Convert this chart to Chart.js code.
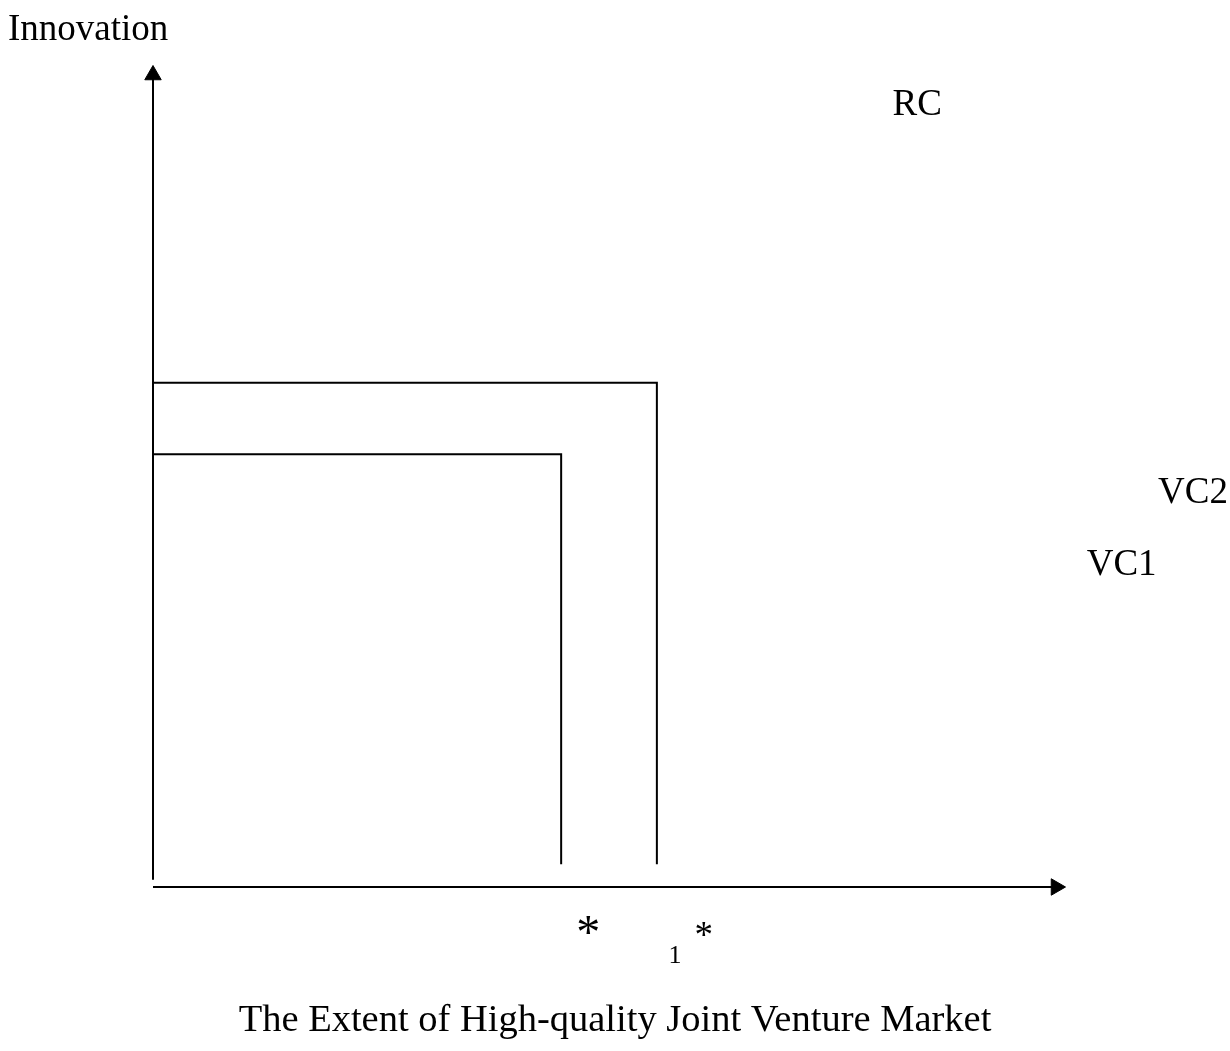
<!DOCTYPE html>
<html>
<head>
<meta charset="utf-8">
<script src="https://cdn.jsdelivr.net/npm/chart.js@4"></script>
<style>
  html, body { margin: 0; padding: 0; background: #fff; }
  #wrap { width: 1230px; height: 1051px; position: relative; }
</style>
</head>
<body>
<div id="wrap"><canvas id="vc-chart"></canvas></div>
<script>
// values (axis runs 0..10 on both sides)
var axisMax = 10;
var axisStartY = 0.09;          // y axis stops just above the x axis
var curveNames = ['VC1', 'VC2'];
var cutoffX = [4.52, 5.58];     // x* and x1*
var levelY = [5.33, 6.21];      // height of each VC step
var floorY = 0.28;              // vertical parts stop above the x axis

var serif = '"Liberation Serif", "Times New Roman", serif';

function stepPoints(i) {
    return [
        {x: 0, y: levelY[i]},
        {x: cutoffX[i], y: levelY[i]},
        {x: cutoffX[i], y: floorY}
    ];
}

var datasets = [
    {
        label: 'y axis',
        data: [{x: 0, y: axisStartY}, {x: 0, y: axisMax}],
        pointRadius: [0, 9.5],
        pointRotation: 0
    },
    {
        label: 'x axis',
        data: [{x: 0, y: 0}, {x: axisMax, y: 0}],
        pointRadius: [0, 9.5],
        pointRotation: 90
    }
];
curveNames.forEach(function(name, i) {
    datasets.push({
        label: name,
        data: stepPoints(i),
        pointRadius: 0
    });
});
datasets.forEach(function(d) {
    d.showLine = true;
    d.borderColor = '#000';
    d.borderWidth = 2;
    d.pointStyle = 'triangle';
    d.pointBackgroundColor = '#000';
    d.pointBorderColor = '#000';
    d.pointBorderWidth = 1;
    d.clip = false;
    d.tension = 0;
});

// text placed in data units, drawn after the chart
var textPlugin = {
    id: 'textLabels',
    afterDraw: function(chart) {
        var ctx = chart.ctx;
        var xs = chart.scales.x, ys = chart.scales.y;
        function put(txt, x, y, size, align) {
            ctx.font = size + 'px ' + serif;
            ctx.textAlign = align;
            ctx.textBaseline = 'alphabetic';
            ctx.fillText(txt, x, y);
        }
        ctx.save();
        ctx.fillStyle = '#000';
        put('Innovation', 8, 40, 37, 'left');
        put('The Extent of High-quality Joint Venture Market', chart.width / 2, 1031, 38.5, 'center');
        put('RC', xs.getPixelForValue(8.19), ys.getPixelForValue(9.55) + 3, 37, 'left');
        put('VC2', xs.getPixelForValue(11.13), ys.getPixelForValue(4.78) + 4, 37, 'left');
        put('VC1', xs.getPixelForValue(10.34), ys.getPixelForValue(3.88) + 3, 37, 'left');
        put('*', xs.getPixelForValue(cutoffX[0] + 0.3), 948, 48, 'center');
        put('1', xs.getPixelForValue(5.78), 963, 26, 'center');
        put('*', xs.getPixelForValue(6.10), 947, 37, 'center');
        ctx.restore();
    }
};

var ctx = document.getElementById('vc-chart');
var vcChart = new Chart(ctx, {
    type: 'scatter',
    data: {datasets: datasets},
    options: {
        responsive: true,
        maintainAspectRatio: false,
        animation: false,
        layout: {padding: {left: 153, right: 174, top: 75, bottom: 164}},
        scales: {
            x: {type: 'linear', min: 0, max: axisMax, display: false},
            y: {type: 'linear', min: 0, max: axisMax, display: false}
        },
        plugins: {
            legend: {display: false},
            tooltip: {enabled: false}
        }
    },
    plugins: [textPlugin]
});
</script>
</body>
</html>
